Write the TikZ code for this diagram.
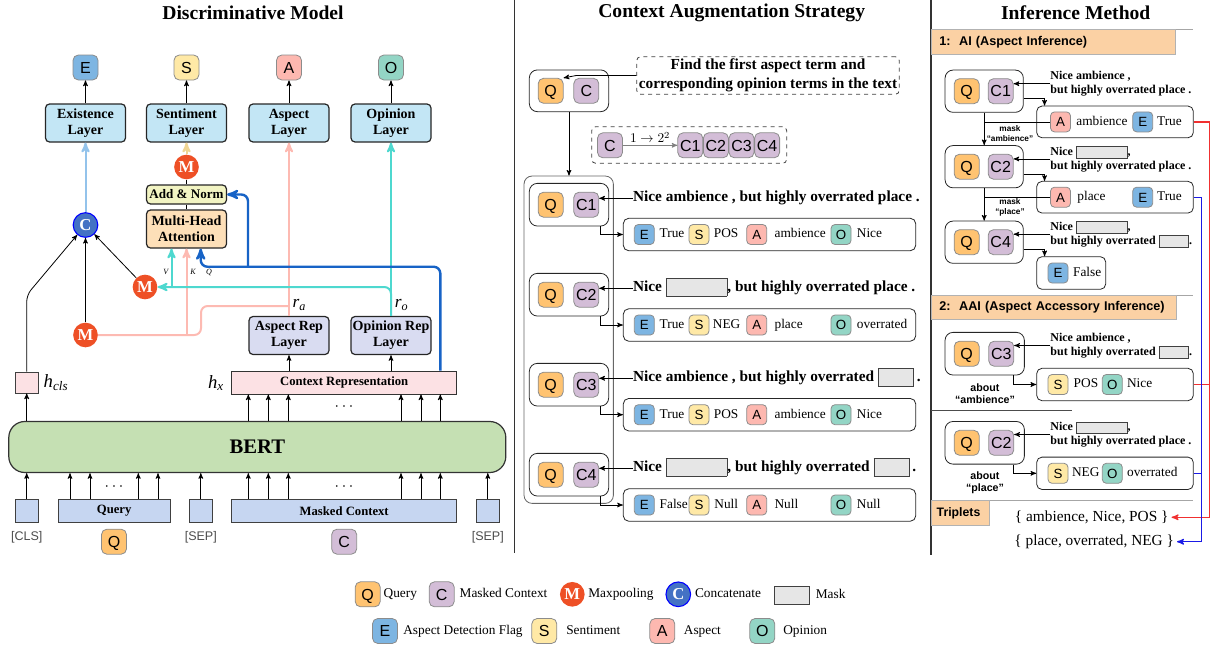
\documentclass[tikz,border=0pt]{standalone}
\usepackage{fontspec}
\setmainfont{Liberation Serif}
\setsansfont{Liberation Sans}
\usepackage{tikz}
\usetikzlibrary{arrows,positioning,calc}

\definecolor{colQ}{HTML}{FFC371}
\definecolor{colC}{HTML}{D3BDD7}
\definecolor{colE}{HTML}{7DB5E2}
\definecolor{colS}{HTML}{FFE9A6}
\definecolor{colA}{HTML}{FDB8B0}
\definecolor{colO}{HTML}{93D5C5}
\definecolor{layerblue}{HTML}{C3E6F5}
\definecolor{addgreen}{HTML}{F2F4C3}
\definecolor{attnpeach}{HTML}{FDDFB8}
\definecolor{poolred}{HTML}{EE5026}
\definecolor{catblue}{HTML}{4472C4}
\definecolor{bertgreen}{HTML}{C5E0B3}
\definecolor{ctxpink}{HTML}{FCE1E4}
\definecolor{replav}{HTML}{D9DCF1}
\definecolor{inblue}{HTML}{C6D6F1}
\definecolor{lnCyan}{HTML}{4ED8CF}
\definecolor{lnPink}{HTML}{FDBAB2}
\definecolor{lnSky}{HTML}{93C3EB}
\definecolor{lnSand}{HTML}{EFD592}
\definecolor{lnBlue}{HTML}{1763C6}
\definecolor{lnRed}{HTML}{F03030}
\definecolor{lnDeep}{HTML}{1A1AE6}
\definecolor{hdrorange}{HTML}{FBD1A4}
\definecolor{maskgray}{HTML}{E6E6E6}

\setlength{\fboxsep}{0pt}
\setlength{\fboxrule}{0.6pt}
% gray mask slot inside a sentence: width, height, lowering
\newcommand{\maskfill}[3]{\fcolorbox{black!75}{maskgray}{\rule[#3]{0pt}{#2}\hspace*{#1}}}

\begin{document}
\begin{tikzpicture}[x=0.75pt,y=-0.75pt,>=stealth',line width=0.6pt,
    every node/.append style={align=center},
    tok/.style={draw=black!45, rounded corners=4pt, minimum size=18.75pt, inner sep=0pt, text height=8.6pt, text depth=0pt, font=\sffamily\fontsize{12}{12}\selectfont},
    stok/.style={draw=black!45, rounded corners=3pt, minimum size=15pt, inner sep=0pt, text height=7.2pt, text depth=0pt, font=\sffamily\fontsize{10}{10}\selectfont},
    paneltitle/.style={font=\bfseries\fontsize{14.7}{16}\selectfont},
    headbox/.style={draw=black!85, line width=0.9pt, rounded corners=3pt, minimum width=60pt, minimum height=28.5pt, inner sep=1pt, font=\bfseries\fontsize{10.5}{12}\selectfont},
    pool/.style={circle, fill=poolred, minimum size=18.5pt, inner sep=0pt, text=white, text height=8pt, text depth=0pt, font=\bfseries\fontsize{12.5}{12}\selectfont},
    inbox/.style={draw=black!75, fill=inblue, minimum height=17.25pt, inner sep=0pt, font=\bfseries\fontsize{9.5}{10}\selectfont},
    grp/.style={draw=black!85, rounded corners=6pt, minimum width=59.5pt, minimum height=32pt},
    resbox/.style={draw=black!85, rounded corners=4pt, minimum height=24.3pt},
    sent/.style={anchor=west, inner sep=0pt, text height=8pt, text depth=2.5pt, font=\bfseries\fontsize{11.5}{13}\selectfont},
    wordlbl/.style={anchor=west, inner sep=0pt, text height=7pt, text depth=2pt, font=\fontsize{10}{12}\selectfont},
    notetext/.style={anchor=west, inner sep=0pt, align=left, font=\bfseries\fontsize{9}{10.5}\selectfont},
    hdr/.style={draw=black!30, fill=hdrorange, anchor=west, minimum height=18.5pt, inner xsep=6pt, align=left, font=\sffamily\bfseries\fontsize{9.5}{10}\selectfont},
    masktag/.style={font=\sffamily\bfseries\fontsize{6.2}{7.5}\selectfont},
    abouttag/.style={font=\sffamily\bfseries\fontsize{8}{8.5}\selectfont},
    spectok/.style={text=black!70, font=\sffamily\fontsize{9.4}{10}\selectfont},
    lgd/.style={inner sep=0pt, text height=7pt, text depth=2pt, font=\fontsize{10}{12}\selectfont},
    colline/.style={line width=1.5pt}]
\useasboundingbox (0,0) rectangle (1214,650);

% titles and panel rules
\node[paneltitle] (tDisc) at (253,13) {Discriminative Model};
\node[paneltitle] (tCtx) at (731.7,13) {Context Augmentation Strategy};
\node[paneltitle] (tInf) at (1075.7,13) {Inference Method};
\draw[black!80, line width=0.8pt] (514.7,0) -- (514.7,553);
\draw[black!80, line width=0.8pt] (931,0) -- (931,555);

%% ---------------- discriminative model ----------------
\node[tok, fill=colE] (outE) at (85.5,67.5) {E};
\node[tok, fill=colS] (outS) at (186.5,67.5) {S};
\node[tok, fill=colA] (outA) at (289,67.5) {A};
\node[tok, fill=colO] (outO) at (391,67.5) {O};
\node[headbox, fill=layerblue] (exL) at (85.5,123) {Existence\\Layer};
\node[headbox, fill=layerblue] (snL) at (186.5,123) {Sentiment\\Layer};
\node[headbox, fill=layerblue] (asL) at (289,123) {Aspect\\Layer};
\node[headbox, fill=layerblue] (opL) at (391,123) {Opinion\\Layer};
\draw[->] (exL) -- (outE);
\draw[->] (snL) -- (outS);
\draw[->] (asL) -- (outA);
\draw[->] (opL) -- (outO);

\node[pool] (mS) at (186.5,167) {M};
\node[headbox, fill=addgreen, minimum height=14.25pt, font=\bfseries\fontsize{9.8}{10}\selectfont] (addN) at (186.5,194.5) {Add \& Norm};
\node[headbox, fill=attnpeach] (mha) at (186.5,229) {Multi-Head\\Attention};
\draw (mha) -- (addN);
\draw (addN) -- (mS);
\draw[->, lnSand, colline] (mS) -- (snL);

\node[pool, fill=catblue, draw=blue, line width=0.8pt] (cC) at (85.5,225) {C};
\node[pool] (mM) at (145,287) {M};
\node[pool] (mB) at (85.5,335) {M};
\draw[->, lnSky, colline] (cC) -- (exL);

\node[draw=black!75, fill=ctxpink, minimum width=17.25pt, minimum height=15.75pt, inner sep=0pt] (hcls) at (26.7,382.5) {};
\node (hclsL) at (56,383) {\fontsize{14}{14}\selectfont\textit{h}\textsubscript{\textit{cls}}};
\draw[->, rounded corners=5pt] (hcls) -- (26.7,295) -- (cC);
\draw[->] (mB) -- (cC);
\draw[->] (mM) -- (cC);

\node[draw=black!80, fill=ctxpink, minimum width=168.75pt, minimum height=17.25pt, inner sep=0pt, font=\bfseries\fontsize{9.5}{10}\selectfont] (ctx) at (344.2,382.5) {Context Representation};
\node (hxL) at (216,383) {\fontsize{14}{14}\selectfont\textit{h}\textsubscript{\textit{x}}};
\node[headbox, fill=replav] (asR) at (289,335.5) {Aspect Rep\\Layer};
\node[headbox, fill=replav] (opR) at (391,335.5) {Opinion Rep\\Layer};
\draw[->] (asR |- ctx.north) -- (asR);
\draw[->] (opR |- ctx.north) -- (opR);
\node (raL) at (299.3,305) {\fontsize{13}{13}\selectfont\textit{r}\textsubscript{\textit{a}}};
\node (roL) at (401.7,305) {\fontsize{13}{13}\selectfont\textit{r}\textsubscript{\textit{o}}};

% aspect path
\coordinate (pkA) at (289,306);
\coordinate (pkK) at (186.5,335);
\draw[->, lnPink, colline] (asR) -- (asL);
\draw[lnPink, colline, rounded corners=5pt] (pkA) -- (201,306) -- (201,335) -- (mB);
\draw[->, lnPink, colline] (pkK) -- (mha.south);

% opinion path
\coordinate (cyV) at (171.5,287);
\draw[->, lnCyan, colline] (opR) -- (opL);
\draw[->, lnCyan, colline, rounded corners=5pt] (opR.north) -- (391,287) -- (mM);
\draw[->, lnCyan, colline] (cyV) -- (cyV |- mha.south);

% context path
\coordinate (bQ) at (440.3,266.7);
\coordinate (qx) at (200.7,266.7);
\coordinate (bAN) at (248,266.7);
\draw[->, lnBlue, line width=1.8pt, rounded corners=5pt] (ctx.north -| bQ) -- (bQ) -- (qx) -- (mha.south -| qx);
\draw[->, lnBlue, line width=1.8pt, rounded corners=5pt] (bAN) -- (bAN |- addN.east) -- (addN.east);

\node[font=\itshape\fontsize{6}{6}\selectfont] (lV) at (165.7,272) {V};
\node[font=\itshape\fontsize{6}{6}\selectfont] (lK) at (193,272) {K};
\node[font=\itshape\fontsize{6}{6}\selectfont] (lQ) at (209,272) {Q};

\node[draw=black!80, line width=0.9pt, fill=bertgreen, rounded corners=12pt, minimum width=372.75pt, minimum height=38.25pt, font=\bfseries\fontsize{15.5}{16}\selectfont] (bert) at (257.3,447) {BERT};
\draw[->] (bert.north -| hcls) -- (hcls);
\foreach \x in {248.3,268.3,288.3,401,421,440.3}
  \draw[->] (bert.north -| \x,0) -- (ctx.south -| \x,0);
\node[font=\fontsize{12}{12}\selectfont] (dotsT) at (344,407) {$\cdots$};

\node[inbox, minimum width=17.5pt] (cls) at (26.7,510.8) {};
\node[inbox, minimum width=83.8pt] (qry) at (114.2,510.8) {Query};
\node[inbox, minimum width=17.25pt] (sepA) at (200.8,510.8) {};
\node[inbox, minimum width=168.75pt] (mctx) at (344.2,510.8) {Masked Context};
\node[inbox, minimum width=17.25pt] (sepB) at (487.8,510.8) {};
\foreach \x in {26.7,70,90,138.3,158,200.8,248.3,268.3,288.3,401,421,440.3,487.8}
  \draw[->] (mctx.north -| \x,0) -- (bert.south -| \x,0);
\node[font=\fontsize{12}{12}\selectfont] (dotsQ) at (114,487) {$\cdots$};
\node[font=\fontsize{12}{12}\selectfont] (dotsC) at (344,487) {$\cdots$};
\node[spectok] (lcls) at (26.7,537.7) {[CLS]};
\node[spectok] (lsepA) at (200.8,537.7) {[SEP]};
\node[spectok] (lsepB) at (487.8,537.7) {[SEP]};
\node[tok, fill=colQ] (inQ) at (114,541.7) {Q};
\node[tok, fill=colC] (inC) at (344.2,541.7) {C};

%% ---------------- context augmentation ----------------
\node[grp, minimum height=31.3pt] (g0) at (569,90.8) {};
\node[tok, fill=colQ] (g0q) at (550.7,90.8) {Q};
\node[tok, fill=colC] (g0c) at (586.3,90.8) {C};
\node[draw=black!75, dashed, rounded corners=3pt, minimum width=197pt, minimum height=28.2pt, inner sep=1pt, font=\bfseries\fontsize{11.5}{14.5}\selectfont] (find) at (768,75.5) {Find the first aspect term and\\corresponding opinion terms in the text};
\draw[->] (find.west) -- ++(-60,0) -- (g0q.north east);

\node[draw=black!75, dashed, rounded corners=3pt, minimum width=146.25pt, minimum height=27.5pt] (split) at (689.2,145) {};
\node[tok, fill=colC] (sc) at (610,145.3) {C};
\node[tok, fill=colC] (sc1) at (690.3,145.3) {C1};
\node[tok, fill=colC] (sc2) at (715.9,145.3) {C2};
\node[tok, fill=colC] (sc3) at (741.5,145.3) {C3};
\node[tok, fill=colC] (sc4) at (767.1,145.3) {C4};
\draw[->, black!50] (sc) -- node[above, inner sep=1.5pt, text=black, font=\fontsize{10}{10}\selectfont] (splitL) {$1\rightarrow 2^{2}$} (sc1);

\node[draw=black!60, rounded corners=6pt, minimum width=67pt, minimum height=245.5pt] (bigG) at (568.7,339.7) {};
\draw[->] (g0.south) -- (g0.south |- bigG.north);

% C1
\node[grp] (g1) at (569,204.7) {};
\node[tok, fill=colQ] (g1q) at (550.7,204.7) {Q};
\node[tok, fill=colC] (g1c) at (586.3,204.7) {C1};
\node[sent] (s1) at (632.7,198.3) {Nice ambience , but highly overrated place .};
\draw[->] (s1.west) -- (s1.west -| g1c.east);
\node[resbox, minimum width=219.3pt] (r1) at (769.5,234.5) {};
\draw[->] ([xshift=-6.5pt]g1.south east) |- (r1.west);
\node[stok, fill=colE] (r1e) at (644.3,234.5) {E};
\node[wordlbl] (r1et) at (659.3,234.5) {True};
\node[stok, fill=colS] (r1s) at (699,234.5) {S};
\node[wordlbl] (r1st) at (713.5,234.5) {POS};
\node[stok, fill=colA] (r1a) at (756.7,234.5) {A};
\node[wordlbl] (r1at) at (774.2,234.5) {ambience};
\node[stok, fill=colO] (r1o) at (841,234.5) {O};
\node[wordlbl] (r1ot) at (856.5,234.5) {Nice};

% C2
\node[grp] (g2) at (569,294.7) {};
\node[tok, fill=colQ] (g2q) at (550.7,294.7) {Q};
\node[tok, fill=colC] (g2c) at (586.3,294.7) {C2};
\node[sent] (s2) at (632.7,288.3) {Nice \maskfill{45pt}{12.75pt}{-2.9pt}, but highly overrated place .};
\draw[->] (s2.west) -- (s2.west -| g2c.east);
\node[resbox, minimum width=219.3pt] (r2) at (769.5,325) {};
\draw[->] ([xshift=-6.5pt]g2.south east) |- (r2.west);
\node[stok, fill=colE] (r2e) at (644.3,325) {E};
\node[wordlbl] (r2et) at (659.3,325) {True};
\node[stok, fill=colS] (r2s) at (699,325) {S};
\node[wordlbl] (r2st) at (712.5,325) {NEG};
\node[stok, fill=colA] (r2a) at (756.7,325) {A};
\node[wordlbl] (r2at) at (774.2,325) {place};
\node[stok, fill=colO] (r2o) at (841,325) {O};
\node[wordlbl] (r2ot) at (856.5,325) {overrated};

% C3
\node[grp] (g3) at (569,384.7) {};
\node[tok, fill=colQ] (g3q) at (550.7,384.7) {Q};
\node[tok, fill=colC] (g3c) at (586.3,384.7) {C3};
\node[sent] (s3) at (632.7,378.3) {Nice ambience , but highly overrated \maskfill{26pt}{12.75pt}{-2.9pt}\,.};
\draw[->] (s3.west) -- (s3.west -| g3c.east);
\node[resbox, minimum width=219.3pt] (r3) at (769.5,414.7) {};
\draw[->] ([xshift=-6.5pt]g3.south east) |- (r3.west);
\node[stok, fill=colE] (r3e) at (644.3,414.7) {E};
\node[wordlbl] (r3et) at (659.3,414.7) {True};
\node[stok, fill=colS] (r3s) at (699,414.7) {S};
\node[wordlbl] (r3st) at (713.5,414.7) {POS};
\node[stok, fill=colA] (r3a) at (756.7,414.7) {A};
\node[wordlbl] (r3at) at (774.2,414.7) {ambience};
\node[stok, fill=colO] (r3o) at (841,414.7) {O};
\node[wordlbl] (r3ot) at (856.5,414.7) {Nice};

% C4
\node[grp] (g4) at (569,474.7) {};
\node[tok, fill=colQ] (g4q) at (550.7,474.7) {Q};
\node[tok, fill=colC] (g4c) at (586.3,474.7) {C4};
\node[sent] (s4) at (632.7,468.3) {Nice \maskfill{45pt}{12.75pt}{-2.9pt}, but highly overrated \maskfill{26pt}{12.75pt}{-2.9pt}\,.};
\draw[->] (s4.west) -- (s4.west -| g4c.east);
\node[resbox, minimum width=219.3pt] (r4) at (769.5,505) {};
\draw[->] ([xshift=-6.5pt]g4.south east) |- (r4.west);
\node[stok, fill=colE] (r4e) at (644.3,505) {E};
\node[wordlbl] (r4et) at (659.3,505) {False};
\node[stok, fill=colS] (r4s) at (699,505) {S};
\node[wordlbl] (r4st) at (714,505) {Null};
\node[stok, fill=colA] (r4a) at (756.7,505) {A};
\node[wordlbl] (r4at) at (774.2,505) {Null};
\node[stok, fill=colO] (r4o) at (841,505) {O};
\node[wordlbl] (r4ot) at (856.5,505) {Null};

%% ---------------- inference method ----------------
\draw[black!35] (931,29.3) -- (1193.3,29.3);
\node[hdr, text width=171pt] (hAI) at (931,41.8) {1:\ \ AI (Aspect Inference)};

% step C1
\node[grp, minimum width=58.7pt, minimum height=31.7pt] (a1) at (984.2,91.2) {};
\node[tok, fill=colQ] (a1q) at (966.7,91.2) {Q};
\node[tok, fill=colC] (a1c) at (1000.7,91.2) {C1};
\node[notetext] (n1) at (1050,83.7) {Nice ambience ,\\but highly overrated place .};
\draw[->] (n1.west) -- (n1.west -| a1c.east);
\node[resbox, minimum width=117.5pt, minimum height=23.8pt] (ra1) at (1115,121.9) {};
\draw[->] ([yshift=-5.6pt]a1.east) -| ([xshift=6.2pt]ra1.north west);
\node[stok, fill=colA] (ra1a) at (1060.5,121.9) {A};
\node[wordlbl] (ra1at) at (1076,121.9) {ambience};
\node[stok, fill=colE] (ra1e) at (1142.7,121.9) {E};
\node[wordlbl] (ra1et) at (1156.7,121.9) {True};
\draw (ra1a.west) -- (ra1a.west -| a1.south);
\node[masktag] (mk1) at (1010,133.3) {mask\\“ambience”};

% step C2
\node[grp, minimum width=58.7pt, minimum height=31.7pt] (a2) at (984.2,166.7) {};
\node[tok, fill=colQ] (a2q) at (966.7,166.7) {Q};
\node[tok, fill=colC] (a2c) at (1000.7,166.7) {C2};
\draw[->] (a1) -- (a2);
\node[notetext] (n2) at (1050,158.9) {Nice \maskfill{37.5pt}{8.25pt}{-1.9pt},\\but highly overrated place .};
\draw[->] (n2.west) -- (n2.west -| a2c.east);
\node[resbox, minimum width=117.5pt, minimum height=23.8pt] (ra2) at (1115,197.2) {};
\draw[->] ([yshift=-5.6pt]a2.east) -| ([xshift=6.2pt]ra2.north west);
\node[stok, fill=colA] (ra2a) at (1060.5,197.2) {A};
\node[wordlbl] (ra2at) at (1077,197.2) {place};
\node[stok, fill=colE] (ra2e) at (1142.7,197.2) {E};
\node[wordlbl] (ra2et) at (1156.7,197.2) {True};
\draw (ra2a.west) -- (ra2a.west -| a2.south);
\node[masktag] (mk2) at (1010,207.5) {mask\\“place”};

% step C4
\node[grp, minimum width=58.7pt, minimum height=31.7pt] (a3) at (984.2,242.2) {};
\node[tok, fill=colQ] (a3q) at (966.7,242.2) {Q};
\node[tok, fill=colC] (a3c) at (1000.7,242.2) {C4};
\draw[->] (a2) -- (a3);
\node[notetext] (n3) at (1050,234.2) {Nice \maskfill{37.5pt}{8.25pt}{-1.9pt},\\but highly overrated \maskfill{21.5pt}{8.25pt}{-1.9pt}.};
\draw[->] (n3.west) -- (n3.west -| a3c.east);
\node[resbox, minimum width=51.75pt, minimum height=24.5pt] (ra3) at (1071.2,273) {};
\draw[->] ([yshift=-5.6pt]a3.east) -| ([xshift=6.2pt]ra3.north west);
\node[stok, fill=colE] (ra3e) at (1058,273) {E};
\node[wordlbl] (ra3et) at (1072.7,273) {False};

% accessory inference
\draw[black!35] (931,295) -- (1193.3,295);
\node[hdr, text width=171.5pt, minimum height=18.2pt] (hAAI) at (931,307.2) {2:\ \ AAI (Aspect Accessory Inference)};

\node[grp] (b1) at (984.7,353.7) {};
\node[tok, fill=colQ] (b1q) at (966.7,353.7) {Q};
\node[tok, fill=colC] (b1c) at (1001.3,353.7) {C3};
\node[notetext] (m1) at (1050,345.5) {Nice ambience ,\\but highly overrated \maskfill{21.5pt}{8.25pt}{-1.9pt}.};
\draw[->] (m1.west) -- (m1.west -| b1c.east);
\node[abouttag] (ab1) at (985,393.8) {about\\“ambience”};
\node[resbox, minimum width=117.5pt] (rb1) at (1115,384.5) {};
\draw[->] ([xshift=21.5pt]b1.south) |- (rb1.west);
\node[stok, fill=colS] (rb1s) at (1058,384.5) {S};
\node[wordlbl] (rb1st) at (1073.3,384.5) {POS};
\node[stok, fill=colO] (rb1o) at (1112.3,384.5) {O};
\node[wordlbl] (rb1ot) at (1126.7,384.5) {Nice};
\draw[black!70] (931,410) -- (1071.7,410);

\node[grp] (b2) at (984.7,442.8) {};
\node[tok, fill=colQ] (b2q) at (966.7,442.8) {Q};
\node[tok, fill=colC] (b2c) at (1001.3,442.8) {C2};
\node[notetext] (m2) at (1050,434.5) {Nice \maskfill{37.5pt}{8.25pt}{-1.9pt},\\but highly overrated place .};
\draw[->] (m2.west) -- (m2.west -| b2c.east);
\node[abouttag] (ab2) at (985,482.7) {about\\“place”};
\node[resbox, minimum width=117.5pt] (rb2) at (1115,473.3) {};
\draw[->] ([xshift=21.5pt]b2.south) |- (rb2.west);
\node[stok, fill=colS] (rb2s) at (1058,473.3) {S};
\node[wordlbl] (rb2st) at (1071.7,473.3) {NEG};
\node[stok, fill=colO] (rb2o) at (1112.3,473.3) {O};
\node[wordlbl] (rb2ot) at (1126.7,473.3) {overrated};
\draw[black!35] (931,500.7) -- (1193.3,500.7);

% triplets
\node[hdr, text width=35.7pt, inner xsep=4pt, minimum height=18.2pt, font=\sffamily\bfseries\fontsize{9.2}{10}\selectfont] (hTri) at (931,512.9) {Triplets};
\node[inner sep=2pt, font=\fontsize{11.5}{12}\selectfont] (tr1) at (1091.7,517.3) {\{ ambience, Nice, POS \}};
\node[inner sep=2pt, font=\fontsize{11.5}{12}\selectfont] (tr2) at (1094.2,541.7) {\{ place, overrated, NEG \}};
\coordinate (redX) at (1209.3,0);
\coordinate (bluX) at (1201.7,0);
\draw[->, lnRed, line width=0.9pt] (ra1.east) -| (redX |- tr1.east) -- (tr1.east);
\draw[lnRed, line width=0.9pt] (rb1.east) -- (rb1.east -| redX);
\draw[->, lnDeep, line width=0.9pt] (ra2.east) -| (bluX |- tr2.east) -- (tr2.east);
\draw[lnDeep, line width=0.9pt] (rb2.east) -- (rb2.east -| bluX);

%% ---------------- legend ----------------
\node[tok, fill=colQ] (lgQ) at (367.7,594.3) {Q};
\node[lgd, right=2pt of lgQ] (lgQt) {Query};
\node[tok, fill=colC] (lgC) at (441.7,594.3) {C};
\node[lgd, right=3.5pt of lgC] (lgCt) {Masked Context};
\node[pool] (lgM) at (572.3,594.3) {M};
\node[lgd, right=2.2pt of lgM] (lgMt) {Maxpooling};
\node[pool, fill=catblue, draw=blue, line width=0.8pt] (lgCat) at (678.3,594.3) {C};
\node[lgd, right=2.6pt of lgCat] (lgCatt) {Concatenate};
\node[draw=black!75, fill=maskgray, minimum width=26pt, minimum height=13.2pt, inner sep=0pt] (lgMask) at (791.7,595.5) {};
\node[lgd, right=4.5pt of lgMask] (lgMaskt) {Mask};
\node[tok, fill=colE] (lgE) at (385,631) {E};
\node[lgd, right=3.8pt of lgE] (lgEt) {Aspect Detection Flag};
\node[tok, fill=colS] (lgS) at (544.3,631) {S};
\node[lgd, right=6.5pt of lgS] (lgSt) {Sentiment};
\node[tok, fill=colA] (lgA) at (662.3,631) {A};
\node[lgd, right=6.2pt of lgA] (lgAt) {Aspect};
\node[tok, fill=colO] (lgO) at (762.3,631) {O};
\node[lgd, right=5.8pt of lgO] (lgOt) {Opinion};
\end{tikzpicture}
\end{document}
